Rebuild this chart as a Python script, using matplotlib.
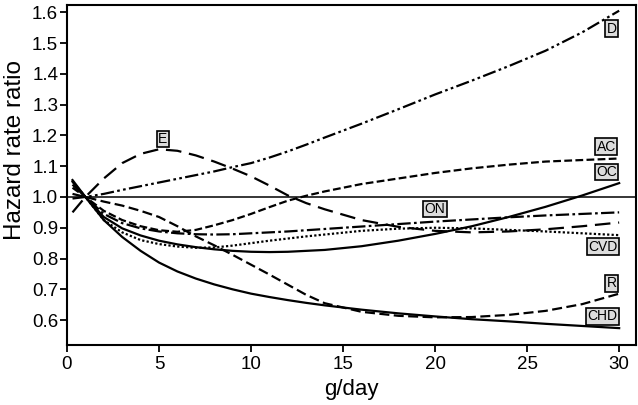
import matplotlib
matplotlib.use("Agg")
import matplotlib.pyplot as plt

plt.rcParams['font.family'] = ['Liberation Sans', 'DejaVu Sans']

x = [0.3, 1, 2, 3, 4, 5, 6, 7, 8, 9, 10, 11, 12, 13, 14, 16, 18, 20, 22, 24, 26, 28, 30]

D   = [0.995, 1.0, 1.01, 1.023, 1.035, 1.047, 1.059, 1.071, 1.083, 1.097, 1.11, 1.128, 1.148, 1.17, 1.193, 1.238, 1.285, 1.333, 1.378, 1.425, 1.475, 1.535, 1.605]
E   = [0.95, 1.0, 1.06, 1.11, 1.14, 1.155, 1.15, 1.135, 1.115, 1.092, 1.067, 1.037, 1.005, 0.98, 0.96, 0.925, 0.903, 0.89, 0.885, 0.888, 0.895, 0.905, 0.917]
AC  = [1.03, 1.0, 0.955, 0.925, 0.905, 0.892, 0.887, 0.893, 0.908, 0.925, 0.945, 0.967, 0.988, 1.004, 1.018, 1.042, 1.06, 1.078, 1.093, 1.105, 1.115, 1.12, 1.125]
OC  = [1.05, 1.0, 0.935, 0.898, 0.875, 0.858, 0.846, 0.837, 0.83, 0.825, 0.822, 0.821, 0.822, 0.825, 0.828, 0.84, 0.858, 0.88, 0.905, 0.935, 0.968, 1.005, 1.045]
ON  = [1.04, 1.0, 0.945, 0.915, 0.898, 0.888, 0.882, 0.879, 0.878, 0.879, 0.882, 0.885, 0.888, 0.892, 0.896, 0.904, 0.912, 0.92, 0.927, 0.934, 0.94, 0.945, 0.95]
CVD = [1.05, 1.0, 0.925, 0.885, 0.86, 0.847, 0.839, 0.835, 0.836, 0.842, 0.85, 0.858, 0.865, 0.872, 0.878, 0.89, 0.897, 0.9, 0.898, 0.893, 0.888, 0.882, 0.876]
R   = [1.01, 1.0, 0.985, 0.972, 0.955, 0.935, 0.905, 0.872, 0.843, 0.812, 0.78, 0.748, 0.715, 0.682, 0.655, 0.627, 0.614, 0.609, 0.61, 0.617, 0.63, 0.652, 0.686]
CHD = [1.055, 1.0, 0.925, 0.87, 0.825, 0.787, 0.758, 0.735, 0.716, 0.7, 0.686, 0.675, 0.665, 0.656, 0.648, 0.634, 0.622, 0.612, 0.603, 0.596, 0.588, 0.581, 0.574]

series = [
    ("D", D, (0, (6, 1.5, 1.2, 1.5, 1.2, 1.5))),
    ("E", E, (0, (7, 3.5))),
    ("AC", AC, (0, (3.5, 1.5))),
    ("OC", OC, "-"),
    ("ON", ON, (0, (6, 1.5, 1.2, 1.5))),
    ("CVD", CVD, (0, (1, 1))),
    ("R", R, (0, (4.5, 2))),
    ("CHD", CHD, "-"),
]

label_names = ["D", "AC", "OC", "ON", "CVD", "R", "CHD", "E"]
label_x = [29.6, 29.3, 29.3, 20.0, 29.1, 29.6, 29.1, 5.2]
label_y = [1.546, 1.163, 1.081, 0.961, 0.838, 0.72, 0.613, 1.188]

xticks = [0, 5, 10, 15, 20, 25, 30]
yticks = [0.6, 0.7, 0.8, 0.9, 1.0, 1.1, 1.2, 1.3, 1.4, 1.5, 1.6]

fig = plt.figure(figsize=(6.38, 4.05), dpi=100)
ax = fig.add_axes([0.105, 0.148, 0.892, 0.840])

ax.axhline(1.0, color="black", lw=1.1, zorder=1)
for name, ys, ls in series:
    ax.plot(x, ys, color="black", lw=1.6, linestyle=ls, zorder=2)

for name, lx, ly in zip(label_names, label_x, label_y):
    ax.text(lx, ly, name, ha="center", va="center", fontsize=10,
            bbox=dict(boxstyle="square,pad=0.1", facecolor="#dcdcdc",
                      edgecolor="black", lw=1.2), zorder=5)

ax.set_xlim(0, 30.92)
ax.set_ylim(0.519, 1.624)
ax.set_xticks(xticks)
ax.set_xticklabels([str(t) for t in xticks])
ax.set_yticks(yticks)
ax.set_yticklabels([f"{t:.1f}" for t in yticks])
ax.tick_params(axis="both", direction="out", length=4.8, width=1.3, labelsize=13.5)
ax.tick_params(axis="x", pad=3)
ax.tick_params(axis="y", pad=1.5)
for sp in ax.spines.values():
    sp.set_linewidth(1.5)

fig.text(351 / 638, 1 - 395 / 405, "g/day", fontsize=16, ha="center", va="baseline")
fig.text(15 / 638, 1 - 150 / 405, "Hazard rate ratio", fontsize=17.5,
         rotation=90, ha="center", va="center")

fig.savefig("out.png", dpi=100)
